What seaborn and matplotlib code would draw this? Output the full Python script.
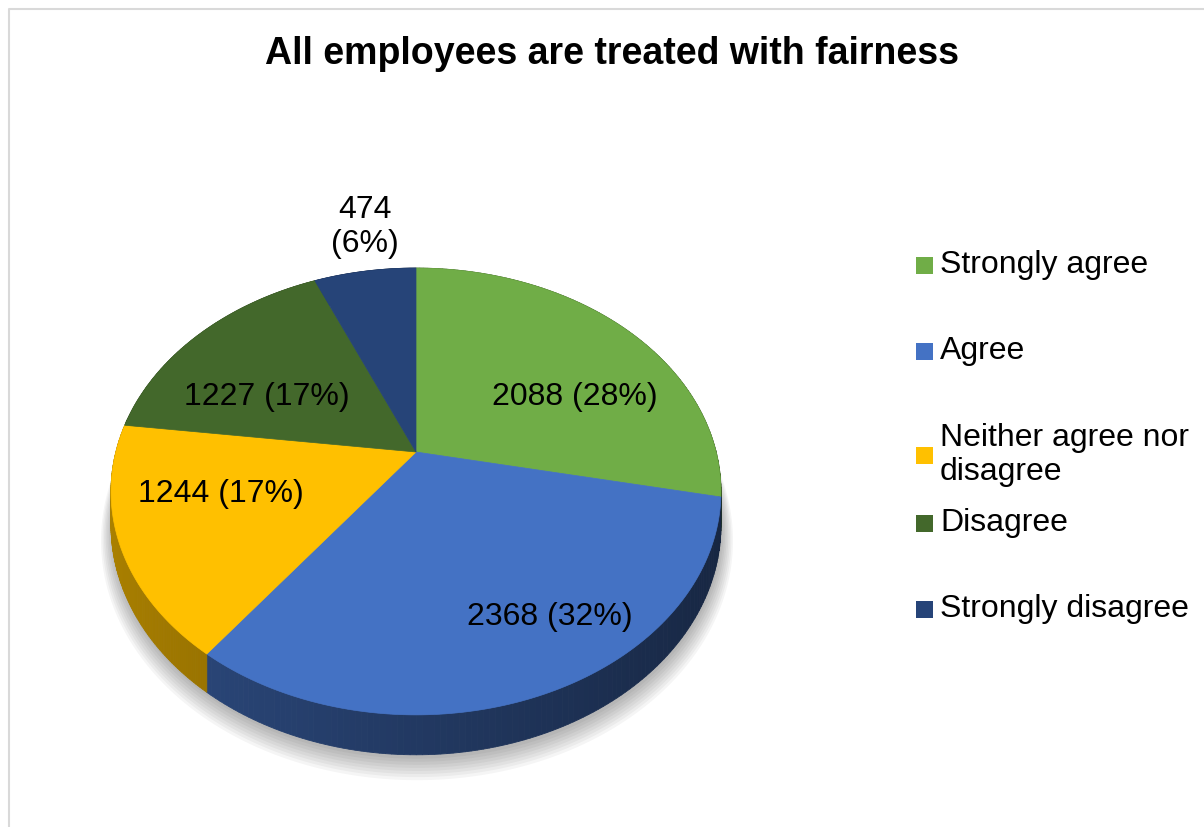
import numpy as np
import matplotlib.pyplot as plt
from matplotlib.patches import Polygon, Rectangle
import seaborn as sns

# chart data
categories = ['Strongly agree', 'Agree', 'Neither agree nor\ndisagree',
              'Disagree', 'Strongly disagree']
counts = [2088, 2368, 1244, 1227, 474]
pcts = [28, 32, 17, 17, 6]
hexcols = ['#70ad47', '#4472c4', '#ffc000', '#43682b', '#264478']

sns.set_theme(style='white')
plt.rcParams['font.family'] = ['Liberation Sans', 'DejaVu Sans']
pal = sns.color_palette(hexcols)

fig = plt.figure(figsize=(12.04, 8.27), dpi=100)
ax = fig.add_axes([0, 0, 1, 1])
ax.set_xlim(0, 1204)
ax.set_ylim(827, 0)
ax.axis('off')

# chart frame
ax.plot([9, 9, 1204], [827, 9, 9], color='#d9d9d9', lw=1.5)

# perspective pie geometry
cx, cy = 416, 452
A, B, D, H = 1699, 1225, 5.66, 186


def proj(th, drop=0.0, r=1.0):
    u = r * np.sin(th)
    v = r * np.cos(th)
    px = cx + A * u / (D + v)
    py = cy - B * v / (D + v) + drop * H / (D + v)
    return px, py


fracs = np.array(counts) / np.sum(counts)
bounds = np.concatenate([[0], np.cumsum(fracs)]) * 2 * np.pi

# soft shadow under the pie
full = np.linspace(0, 2 * np.pi, 400)
for k in range(8):
    sx, sy = proj(full, drop=1.0 + 0.035 * k, r=1.0 + 0.005 * k)
    ax.add_patch(Polygon(np.column_stack([sx + 1, sy + 4]), closed=True,
                         facecolor='black', edgecolor='none', alpha=0.04))

# side wall
for i in range(len(counts)):
    ths = np.linspace(bounds[i], bounds[i + 1], 120)
    base = np.array(pal[i])
    for a0, a1 in zip(ths[:-1], ths[1:]):
        x0, y0 = proj(a0)
        x1, y1 = proj(a1)
        x2, y2 = proj(a1, drop=1.0)
        x3, y3 = proj(a0, drop=1.0)
        um = np.sin((a0 + a1) / 2)
        f = 0.5 - 0.17 * um
        col = np.clip(base * f, 0, 1)
        ax.add_patch(Polygon([[x0, y0], [x1, y1], [x2, y2], [x3, y3]],
                             closed=True, facecolor=col, edgecolor=col, lw=0.6))

# top face
for i in range(len(counts)):
    ths = np.linspace(bounds[i], bounds[i + 1], 200)
    rx, ry = proj(ths)
    pts = np.vstack([[cx, cy], np.column_stack([rx, ry])])
    ax.add_patch(Polygon(pts, closed=True, facecolor=pal[i],
                         edgecolor=pal[i], lw=0.5))

# data labels
label_pos = [(575, 397), (550, 617), (221, 494), (267, 397), (365, 227)]
for i, (lx, ly) in enumerate(label_pos):
    if i == 4:
        txt = '{0}\n({1}%)'.format(counts[i], pcts[i])
    else:
        txt = '{0} ({1}%)'.format(counts[i], pcts[i])
    ax.text(lx, ly, txt, ha='center', va='center', fontsize=23,
            color='black', linespacing=1.2)

# title
ax.text(612, 54, 'All employees are treated with fairness', ha='center',
        va='center', fontsize=27, fontweight='bold', color='black')

# legend
leg_y = [265, 351, 455, 523, 609]
for i, ly in enumerate(leg_y):
    ax.add_patch(Rectangle((916, ly - 8.5), 17, 17, facecolor=pal[i],
                           edgecolor='none'))
    ax.text(940, ly, categories[i], ha='left', va='center', fontsize=23,
            color='black', linespacing=1.2)

fig.savefig('out.png', dpi=100)
